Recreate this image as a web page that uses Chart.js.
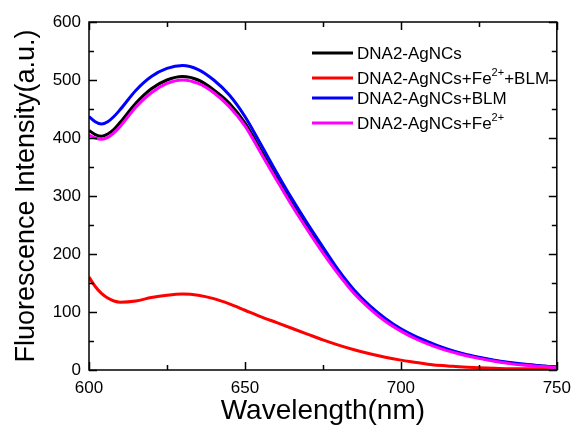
<!DOCTYPE html>
<html>
<head>
<meta charset="utf-8">
<script src="https://cdn.jsdelivr.net/npm/chart.js@4.4.0/dist/chart.umd.min.js"></script>
<style>
  html, body { margin: 0; padding: 0; background: #fff; }
  #wrap { width: 579px; height: 432px; }
</style>
</head>
<body>
<div id="wrap"><canvas id="spectra_chart"></canvas></div>
<script>
// wavelength (nm) and intensity (a.u.)
var wavelengths = [600, 602, 604, 606, 608, 610, 615, 620, 625, 630, 635, 640, 645, 650, 655, 660, 665, 670,
                   675, 680, 685, 690, 695, 700, 705, 710, 715, 720, 725, 730, 735, 740, 745, 750];

var dnaAgNCs    = [413, 406, 403, 407, 415, 427, 460, 485, 500, 506, 500, 483, 460, 426, 380, 333, 288, 246,
                   206, 168, 135, 108, 86, 69, 55, 44, 35, 27, 21, 16, 12, 9, 7, 5];
var dnaFeBlm    = [160, 144, 132, 124, 119, 117, 119, 125, 129, 131, 129, 123, 114, 103, 92, 82, 72, 62,
                   52, 43, 35, 28, 22, 17, 13, 9, 7, 5, 4, 3, 2, 2, 2, 2];
var dnaBlm      = [437, 428, 424, 428, 437, 449, 482, 506, 520, 525, 518, 500, 474, 437, 390, 342, 296, 253,
                   212, 172, 138, 111, 89, 71, 57, 46, 36, 28, 22, 17, 13, 10, 7, 5];
var dnaFe       = [405, 400, 398, 401, 409, 420, 453, 478, 494, 500, 494, 478, 454, 421, 375, 329, 284, 242,
                   202, 165, 132, 106, 84, 67, 53, 42, 33, 26, 20, 15, 11, 8, 6, 4];

// legend text, {..} is a superscript
var seriesLabels = ['DNA2-AgNCs', 'DNA2-AgNCs+Fe{2+}+BLM', 'DNA2-AgNCs+BLM', 'DNA2-AgNCs+Fe{2+}'];
var seriesColors = ['#000000', '#ff0000', '#0000ff', '#ff00ff'];

var xMin = 600, xMax = 750, xMajor = 50, xMinor = 25;
var yMin = 0, yMax = 600, yMajor = 100, yMinor = 50;

var fontFamily = '"Liberation Sans", Arial, Helvetica, sans-serif';

function makePoints(ys) {
  var pts = [];
  for (var i = 0; i < wavelengths.length; i++) {
    pts.push({x: wavelengths[i], y: ys[i]});
  }
  return pts;
}

// box frame with inward ticks on all four sides
var frameTicks = {
  id: 'frameTicks',
  afterDatasetsDraw: function(chart) {
    var ctx = chart.ctx, a = chart.chartArea;
    var xs = chart.scales.x, ys = chart.scales.y;
    ctx.save();
    ctx.strokeStyle = '#000';
    ctx.lineWidth = 1.5;
    ctx.strokeRect(a.left, a.top, a.right - a.left, a.bottom - a.top);
    ctx.beginPath();
    for (var v = xMin; v <= xMax; v += xMinor) {
      var px = Math.round(xs.getPixelForValue(v)) + 0.5;
      var len = (v % xMajor === 0) ? 8 : 5;
      ctx.moveTo(px, a.bottom); ctx.lineTo(px, a.bottom - len);
      ctx.moveTo(px, a.top); ctx.lineTo(px, a.top + len);
    }
    for (var w = yMin; w <= yMax; w += yMinor) {
      var py = Math.round(ys.getPixelForValue(w)) + 0.5;
      var len2 = (w % yMajor === 0) ? 8 : 5;
      ctx.moveTo(a.left, py); ctx.lineTo(a.left + len2, py);
      ctx.moveTo(a.right, py); ctx.lineTo(a.right - len2, py);
    }
    ctx.stroke();
    ctx.restore();
  }
};

// legend drawn by hand so the superscripts come out right
var legendRows = [53, 78, 98, 123];
var spectraLegend = {
  id: 'spectraLegend',
  afterDraw: function(chart) {
    var ctx = chart.ctx;
    ctx.save();
    ctx.textBaseline = 'middle';
    ctx.textAlign = 'left';
    for (var i = 0; i < seriesLabels.length; i++) {
      var y = legendRows[i];
      ctx.strokeStyle = seriesColors[i];
      ctx.lineWidth = 3;
      ctx.beginPath();
      ctx.moveTo(312, y);
      ctx.lineTo(353, y);
      ctx.stroke();

      var x = 357;
      var parts = seriesLabels[i].split(/(\{[^}]*\})/);
      ctx.fillStyle = '#000';
      parts.forEach(function(p) {
        if (!p) return;
        if (p.charAt(0) === '{') {
          var s = p.slice(1, -1);
          ctx.font = '11px ' + fontFamily;
          ctx.fillText(s, x, y - 5);
          x += ctx.measureText(s).width;
        } else {
          ctx.font = '17px ' + fontFamily;
          ctx.fillText(p, x, y + 1);
          x += ctx.measureText(p).width;
        }
      });
    }
    ctx.restore();
  }
};

var datasets = [];
var seriesData = [dnaAgNCs, dnaFeBlm, dnaBlm, dnaFe];
for (var k = 0; k < seriesData.length; k++) {
  datasets.push({
    label: seriesLabels[k].replace(/[{}]/g, ''),
    data: makePoints(seriesData[k]),
    borderColor: seriesColors[k],
    backgroundColor: seriesColors[k],
    borderWidth: 3,
    pointRadius: 0,
    cubicInterpolationMode: 'monotone',
    fill: false,
    order: seriesData.length - k
  });
}

var chart_element = document.getElementById('spectra_chart').getContext('2d');
var spectraChart = new Chart(chart_element, {
  type: 'line',
  data: { datasets: datasets },
  plugins: [frameTicks, spectraLegend],
  options: {
    responsive: true,
    maintainAspectRatio: false,
    animation: false,
    layout: { padding: { top: 22, right: 18, left: 0, bottom: 0 } },
    plugins: {
      legend: { display: false },
      tooltip: { enabled: false }
    },
    scales: {
      x: {
        type: 'linear',
        min: xMin,
        max: xMax,
        afterFit: function(scale) { scale.height = 62; },
        grid: { display: false, drawTicks: false },
        border: { display: false },
        ticks: {
          stepSize: xMajor,
          padding: 8,
          maxRotation: 0,
          color: '#000',
          font: { family: fontFamily, size: 17 }
        },
        title: {
          display: true,
          text: 'Wavelength(nm)',
          color: '#000',
          padding: { top: 0, bottom: 4 },
          font: { family: fontFamily, size: 28 }
        }
      },
      y: {
        type: 'linear',
        min: yMin,
        max: yMax,
        afterFit: function(scale) { scale.width = 89; },
        grid: { display: false, drawTicks: false },
        border: { display: false },
        ticks: {
          stepSize: yMajor,
          padding: 8,
          color: '#000',
          font: { family: fontFamily, size: 17 }
        },
        title: {
          display: true,
          text: 'Fluorescence Intensity(a.u.)',
          color: '#000',
          padding: { top: 10, bottom: 0 },
          font: { family: fontFamily, size: 27 }
        }
      }
    }
  }
});
</script>
</body>
</html>
